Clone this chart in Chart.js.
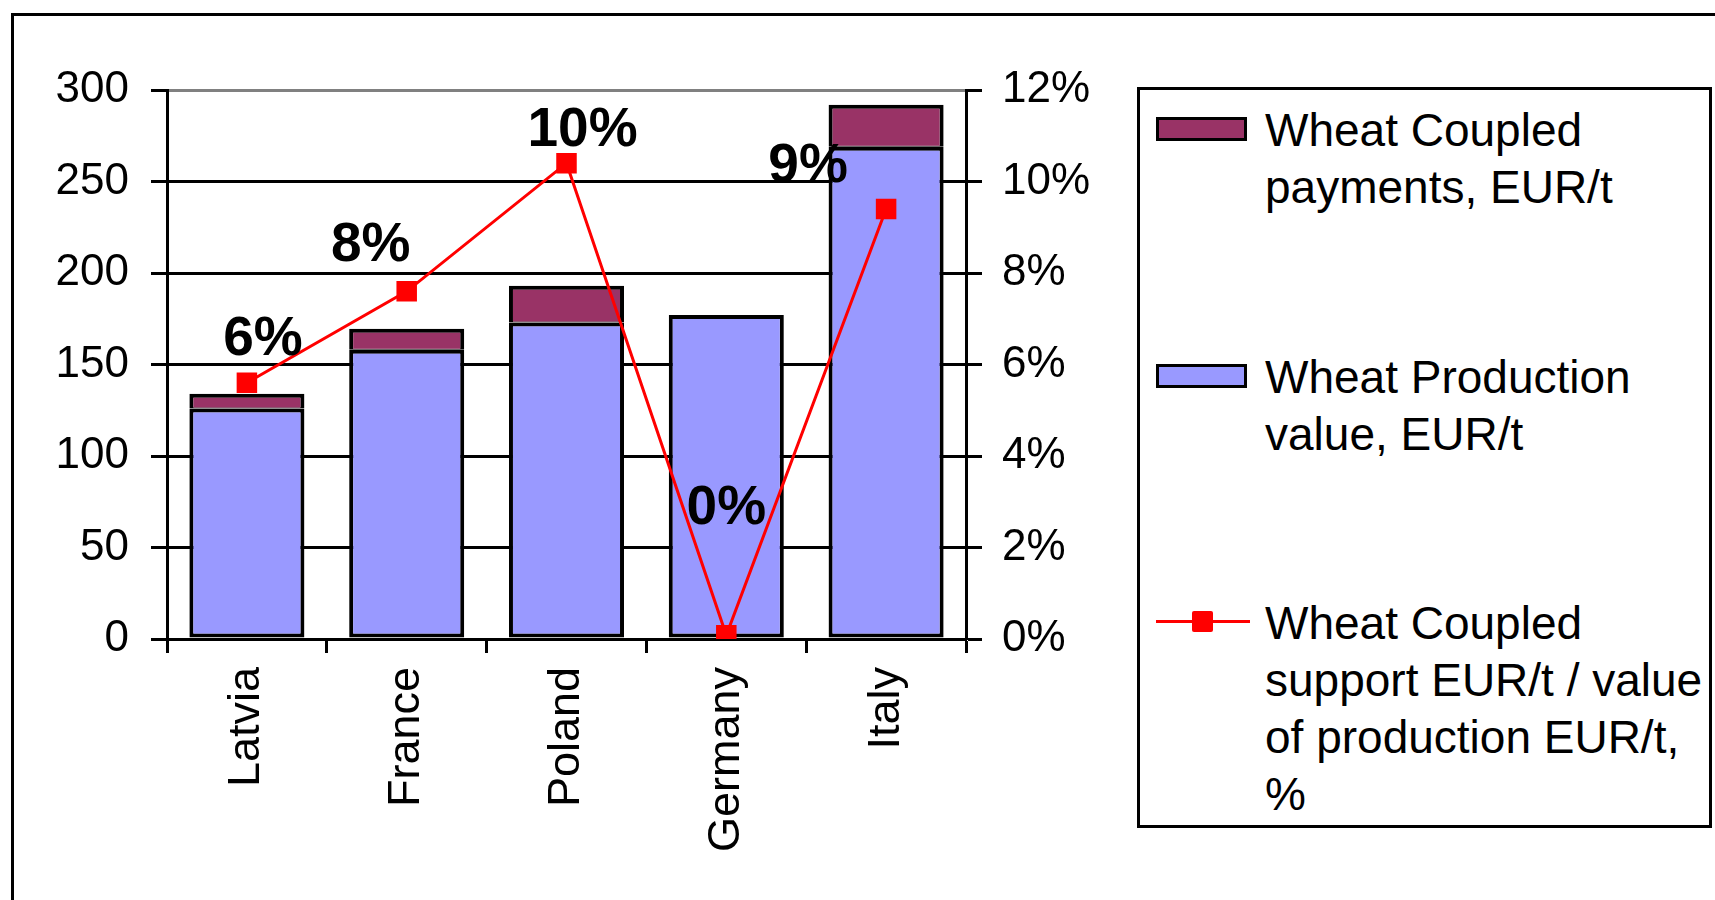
<!DOCTYPE html>
<html>
<head>
<meta charset="utf-8">
<script src="https://cdn.jsdelivr.net/npm/chart.js@4/dist/chart.umd.min.js"></script>
<style>
  body { margin: 0; background: #fff; overflow: hidden; font-family: 'Liberation Sans', Arial, sans-serif; }
  #wrap { position: relative; width: 1715px; height: 900px; overflow: hidden; }
  #frame { position: absolute; left: 11px; top: 13px; width: 1800px; height: 1000px; border: 3px solid #000; }
  #chart { position: absolute; left: 0; top: 0; }
  #legend { position: absolute; left: 1137px; top: 87px; width: 575px; height: 741px; border: 3px solid #000; box-sizing: border-box; background: #fff; }
  .sw { position: absolute; left: 16px; width: 91px; height: 24px; border: 3px solid #000; box-sizing: border-box; }
  .txt { position: absolute; left: 125px; font-size: 46px; line-height: 57px; white-space: pre; color: #000; }
  .ln { position: absolute; left: 16px; width: 94px; height: 3px; background: #ff0000; }
  .mk { position: absolute; width: 21px; height: 21px; background: #ff0000; border-radius: 2px; }
</style>
</head>
<body>
<div id="wrap">
  <div id="frame"></div>
  <canvas id="chart" width="1715" height="900"></canvas>
  <div id="legend">
    <div class="sw" id="sw-coupled" style="top:27px"></div>
    <div class="txt" id="lg-coupled" style="top:12px"></div>
    <div class="sw" id="sw-prod" style="top:274px"></div>
    <div class="txt" id="lg-prod" style="top:259px"></div>
    <div class="ln" style="top:530px"></div>
    <div class="mk" style="left:52px; top:521px"></div>
    <div class="txt" id="lg-share" style="top:505px"></div>
  </div>
</div>
<script>
// categories and values
const countries = ['Latvia', 'France', 'Poland', 'Germany', 'Italy'];
const productionValue = [126, 158, 173, 177, 269];   // EUR/t
const coupledPayments = [8, 11.5, 20, 0, 23];        // EUR/t
const supportShare = [5.6, 7.6, 10.4, 0.08, 9.4];    // %

const leftTicks = { min: 0, max: 300, step: 50 };
const rightTicks = { min: 0, max: 12, step: 2 };

const nameCoupled = 'Wheat Coupled\npayments, EUR/t';
const nameProd = 'Wheat Production\nvalue, EUR/t';
const nameShare = 'Wheat Coupled\nsupport EUR/t / value\nof production EUR/t,\n%';

const colProd = '#9999ff';
const colCoupled = '#993366';
const colLine = '#ff0000';

document.getElementById('sw-coupled').style.background = colCoupled;
document.getElementById('sw-prod').style.background = colProd;
document.getElementById('lg-coupled').textContent = nameCoupled;
document.getElementById('lg-prod').textContent = nameProd;
document.getElementById('lg-share').textContent = nameShare;

// hand-placed data label offsets (like the dragged labels in the original)
const labelShift = [[16, -43], [-36, -45], [16, -32], [0, -127], [-78, -42]];

const pctLabels = {
    id: 'pctLabels',
    afterDatasetsDraw(chart) {
        const meta = chart.getDatasetMeta(0);
        const ctx = chart.ctx;
        ctx.save();
        ctx.font = 'bold 55px "Liberation Sans", Arial, sans-serif';
        ctx.fillStyle = '#000';
        ctx.textAlign = 'center';
        ctx.textBaseline = 'middle';
        meta.data.forEach((pt, i) => {
            const s = labelShift[i];
            ctx.fillText(Math.round(supportShare[i]) + '%', pt.x + s[0], pt.y + s[1]);
        });
        ctx.restore();
    }
};

const tickFont = { family: '"Liberation Sans", Arial, sans-serif', size: 44 };

new Chart(document.getElementById('chart').getContext('2d'), {
    type: 'bar',
    data: {
        labels: countries,
        datasets: [
            {
                type: 'line',
                label: nameShare.replace(/\n/g, ' '),
                data: supportShare,
                yAxisID: 'y1',
                borderColor: colLine,
                backgroundColor: colLine,
                borderWidth: 3,
                pointStyle: 'rect',
                pointRadius: 14.5,
                pointBorderWidth: 0,
                order: 0
            },
            {
                label: nameProd.replace(/\n/g, ' '),
                data: productionValue,
                backgroundColor: colProd,
                borderColor: '#000',
                borderWidth: 4,
                borderSkipped: false,
                stack: 's',
                order: 1
            },
            {
                label: nameCoupled.replace(/\n/g, ' '),
                data: coupledPayments,
                backgroundColor: colCoupled,
                borderColor: '#000',
                borderWidth: { top: 4, left: 4, right: 4, bottom: 1 },
                borderSkipped: false,
                stack: 's',
                order: 1
            }
        ]
    },
    options: {
        responsive: false,
        animation: false,
        layout: { padding: { top: 90, left: 0, right: 0, bottom: 0 } },
        plugins: { legend: { display: false }, tooltip: { enabled: false } },
        datasets: { bar: { categoryPercentage: 1, barPercentage: 0.72 } },
        scales: {
            x: {
                stacked: true,
                afterFit: s => { s.height = 261; },
                grid: { offset: true, drawOnChartArea: false, tickLength: 14, tickWidth: 3, tickColor: '#000' },
                border: { color: '#000', width: 3 },
                ticks: { color: '#000', font: { ...tickFont, size: 45 }, minRotation: 90, maxRotation: 90, padding: 14 }
            },
            y: {
                stacked: true,
                min: leftTicks.min,
                max: leftTicks.max,
                afterFit: s => { s.width = 167; },
                grid: {
                    color: c => (c.tick && c.tick.value === leftTicks.max) ? '#808080' : '#000',
                    lineWidth: 3,
                    tickLength: 16,
                    tickWidth: 3,
                    tickColor: '#000'
                },
                border: { color: '#000', width: 3 },
                ticks: { stepSize: leftTicks.step, color: '#000', font: tickFont, padding: 22 }
            },
            y1: {
                position: 'right',
                min: rightTicks.min,
                max: rightTicks.max,
                afterFit: s => { s.width = 749; },
                grid: { drawOnChartArea: false, tickLength: 16, tickWidth: 3, tickColor: '#000' },
                border: { color: '#000', width: 3 },
                ticks: { stepSize: rightTicks.step, color: '#000', font: tickFont, padding: 20, callback: v => v + '%' }
            }
        }
    },
    plugins: [pctLabels]
});
</script>
</body>
</html>
